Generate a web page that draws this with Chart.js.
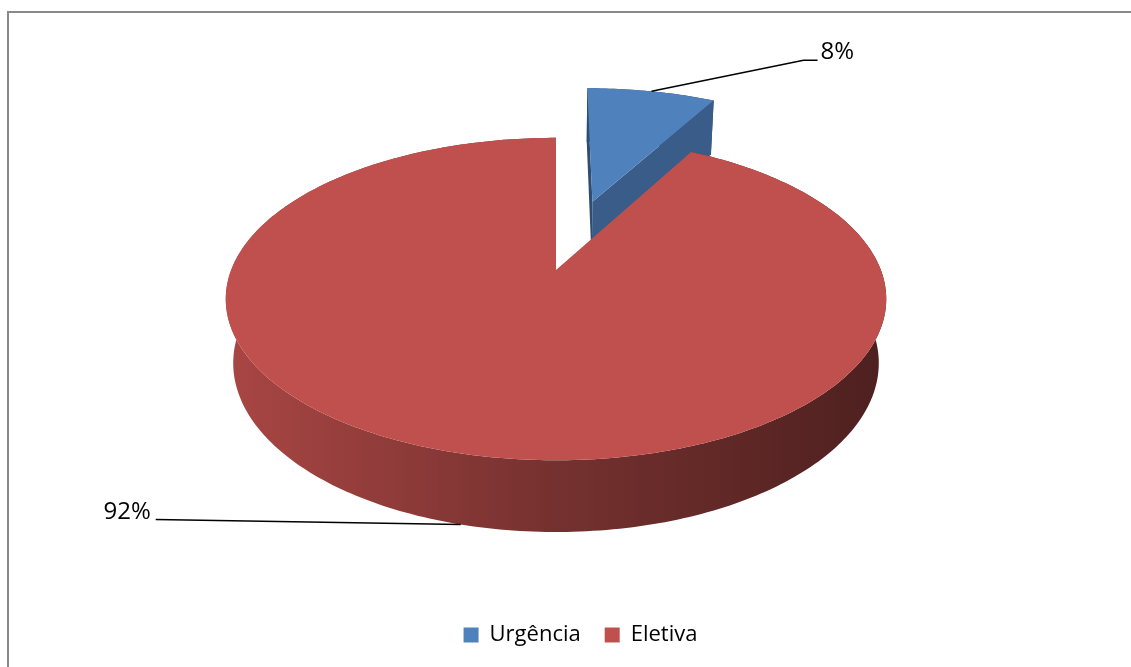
<!DOCTYPE html>
<html>
<head>
<meta charset="utf-8">
<script src="https://cdn.jsdelivr.net/npm/chart.js@4.4.0/dist/chart.umd.min.js"></script>
<style>
html, body { margin:0; padding:0; background:#fff; overflow:hidden; }
#wrap { position:absolute; left:0; top:0; width:1131px; height:667px; }
</style>
</head>
<body>
<div id="wrap"><canvas id="chart"></canvas></div>
<script>
var labels = ["Urgência", "Eletiva"];
var values = [8, 92];
var colors = ["#4F81BD", "#C0504D"];

// 3d view settings (tuned by eye)
var PHI = 28.7 * Math.PI / 180, S = Math.sin(PHI), C = Math.cos(PHI);
var D = 4.87, F = 1582, H = 0.227, CX = 556, CY = 270;

function proj(x, y, z) {
	var dep = D + z * C - y * S;
	return [CX + F * x / dep, CY - F * (y * C + z * S) / dep];
}
function shade(hex, k) {
	var n = parseInt(hex.slice(1), 16);
	var r = Math.round(((n >> 16) & 255) * k), g = Math.round(((n >> 8) & 255) * k), b = Math.round((n & 255) * k);
	return "rgb(" + r + "," + g + "," + b + ")";
}
function poly(ctx, pts, fill) {
	ctx.beginPath();
	ctx.moveTo(pts[0][0], pts[0][1]);
	for (var i = 1; i < pts.length; i++) ctx.lineTo(pts[i][0], pts[i][1]);
	ctx.closePath();
	ctx.fillStyle = fill;
	ctx.fill();
}

var frame = {
	id: 'frame',
	beforeDraw: function(chart) {
		var ctx = chart.ctx;
		ctx.save();
		ctx.strokeStyle = '#898989';
		ctx.lineWidth = 2;
		ctx.strokeRect(8, 12, 1400, 900);
		ctx.restore();
	}
};

var pie3d = {
	id: 'pie3d',
	beforeDatasetsDraw: function(chart) {
		var ctx = chart.ctx;
		var meta = chart.getDatasetMeta(0);
		var total = values.reduce(function(a, b){ return a + b; }, 0);
		var camY = D * S, camZ = -D * C;
		var slices = meta.data.map(function(arc, i){
			var t0 = arc.startAngle + Math.PI / 2, t1 = arc.endAngle + Math.PI / 2, tm = (t0 + t1) / 2;
			var e = (arc.options.offset || 0) / arc.outerRadius;
			return { i: i, t0: t0, t1: t1, tm: tm, ox: e * Math.sin(tm), oz: e * Math.cos(tm), color: arc.options.backgroundColor };
		});
		slices.sort(function(a, b){ return b.oz - a.oz; });

		ctx.save();
		slices.forEach(function(s){
			var n = Math.max(2, Math.ceil((s.t1 - s.t0) / (Math.PI / 180)));
			var top = [], bot = [];
			for (var k = 0; k <= n; k++) {
				var t = s.t0 + (s.t1 - s.t0) * k / n;
				top.push(proj(s.ox + Math.sin(t), 0, s.oz + Math.cos(t)));
				bot.push(proj(s.ox + Math.sin(t), -H, s.oz + Math.cos(t)));
			}
			// outer side
			var g = ctx.createLinearGradient(CX - 330, 0, CX + 330, 0);
			g.addColorStop(0, shade(s.color, 0.88));
			g.addColorStop(0.5, shade(s.color, 0.61));
			g.addColorStop(1, shade(s.color, 0.40));
			poly(ctx, top.concat(bot.slice().reverse()), g);
			// cut faces
			var aTop = proj(s.ox, 0, s.oz), aBot = proj(s.ox, -H, s.oz);
			var vx = -s.ox, vy = camY, vz = camZ - s.oz;
			var n0 = [-Math.cos(s.t0), Math.sin(s.t0)], n1 = [Math.cos(s.t1), -Math.sin(s.t1)];
			if (n0[0] * vx + n0[1] * vz > 1e-6) poly(ctx, [aTop, top[0], bot[0], aBot], shade(s.color, 0.6));
			if (n1[0] * vx + n1[1] * vz > 1e-6) poly(ctx, [aTop, top[n], bot[n], aBot], shade(s.color, 0.72));
			// top face
			poly(ctx, [aTop].concat(top), s.color);
		});

		// data labels with leader lines
		ctx.strokeStyle = '#000';
		ctx.lineWidth = 1.5;
		ctx.fillStyle = '#000';
		ctx.font = '24px "Open Sans"';
		ctx.textBaseline = 'middle';
		slices.forEach(function(s){
			var back = Math.cos(s.tm) > 0;
			var a = proj(s.ox + Math.sin(s.tm), back ? 0 : -H, s.oz + Math.cos(s.tm));
			var txt = Math.round(values[s.i] / total * 100) + '%';
			ctx.beginPath();
			ctx.moveTo(a[0], a[1]);
			if (Math.sin(s.tm) > 0) {
				ctx.lineTo(a[0] + 152, a[1] - 31);
				ctx.lineTo(a[0] + 166, a[1] - 31);
				ctx.stroke();
				ctx.textAlign = 'left';
				ctx.fillText(txt, a[0] + 169, a[1] - 39);
			} else {
				ctx.lineTo(a[0] - 305, a[1] - 5);
				ctx.stroke();
				ctx.textAlign = 'right';
				ctx.fillText(txt, a[0] - 310, a[1] - 12);
			}
		});
		ctx.restore();
		return false;
	}
};

new Chart(document.getElementById('chart'), {
	type: 'pie',
	data: {
		labels: labels,
		datasets: [{
			data: values,
			backgroundColor: colors,
			borderWidth: 0,
			offset: [118, 0]
		}]
	},
	options: {
		responsive: true,
		maintainAspectRatio: false,
		animation: false,
		layout: { padding: { left: 30, bottom: 11 } },
		plugins: {
			tooltip: { enabled: false },
			legend: {
				position: 'bottom',
				labels: {
					boxWidth: 15,
					boxHeight: 15,
					padding: 24,
					color: '#000',
					font: { family: 'Open Sans', size: 22 }
				}
			}
		}
	},
	plugins: [frame, pie3d]
});
</script>
</body>
</html>
